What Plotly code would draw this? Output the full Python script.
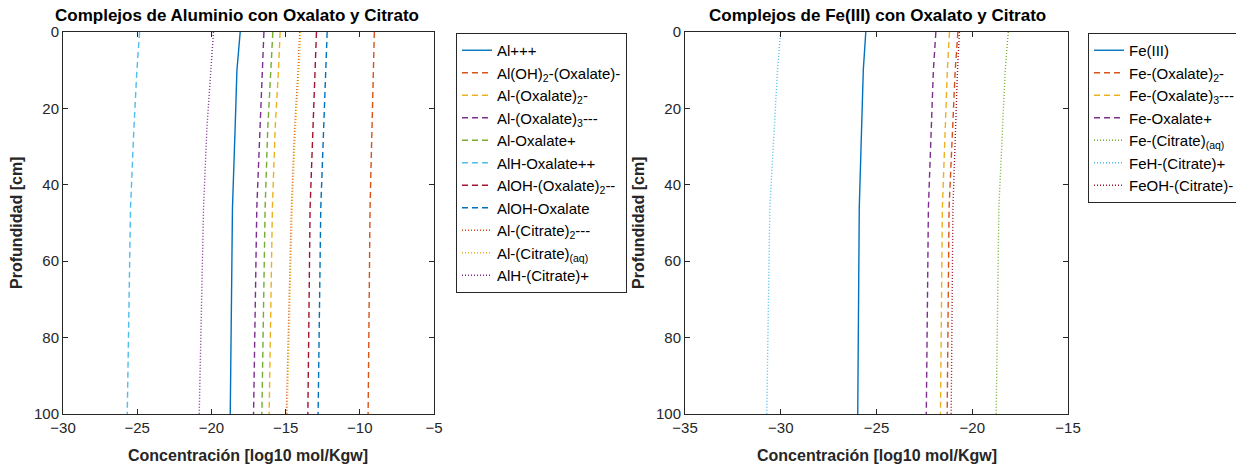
import plotly.graph_objects as go

# ---------------- Data ----------------
depth_al = [0, 10, 25, 46, 100]
al_names = ["Al+++", "Al(OH)<sub>2</sub>-(Oxalate)-", "Al-(Oxalate)<sub>2</sub>-",
            "Al-(Oxalate)<sub>3</sub>---", "Al-Oxalate+", "AlH-Oxalate++",
            "AlOH-(Oxalate)<sub>2</sub>--", "AlOH-Oxalate", "Al-(Citrate)<sub>2</sub>---",
            "Al-(Citrate)<sub>(aq)</sub>", "AlH-(Citrate)+"]
al_ppp = [-18.06, -18.28, -18.40, -18.58, -18.73]
al_oh2_ox = [-9.02, -9.08, -9.17, -9.31, -9.44]
al_ox2 = [-15.37, -15.48, -15.70, -15.89, -16.11]
al_ox3 = [-16.46, -16.56, -16.76, -16.94, -17.16]
al_ox = [-15.86, -15.99, -16.20, -16.38, -16.60]
alh_ox = [-24.84, -25.02, -25.22, -25.45, -25.67]
aloh_ox2 = [-12.92, -13.01, -13.16, -13.35, -13.50]
aloh_ox = [-12.20, -12.29, -12.47, -12.63, -12.81]
al_cit2 = [-14.05, -14.16, -14.39, -14.61, -14.95]
al_cit_aq = [-13.99, -14.10, -14.33, -14.55, -14.89]
alh_cit = [-19.86, -20.03, -20.30, -20.53, -20.82]

depth_fe = [0, 10, 46, 100]
fe_names = ["Fe(III)", "Fe-(Oxalate)<sub>2</sub>-", "Fe-(Oxalate)<sub>3</sub>---",
            "Fe-Oxalate+", "Fe-(Citrate)<sub>(aq)</sub>", "FeH-(Citrate)+", "FeOH-(Citrate)-"]
fe_iii = [-25.56, -25.69, -25.90, -25.98]
fe_ox2 = [-20.75, -20.89, -21.21, -21.31]
fe_ox3 = [-21.19, -21.30, -21.56, -21.66]
fe_ox = [-21.90, -22.03, -22.29, -22.40]
fe_cit_aq = [-18.12, -18.28, -18.61, -18.75]
feh_cit = [-30.01, -30.17, -30.57, -30.73]
feoh_cit = [-20.67, -20.77, -21.01, -21.10]

al_x_ticks = [-30, -25, -20, -15, -10, -5]
fe_x_ticks = [-35, -30, -25, -20, -15]
y_ticks = [0, 20, 40, 60, 80, 100]

# ---------------- Styles ----------------
C = ["#0072BD", "#D95319", "#EDB120", "#7E2F8E", "#77AC30", "#4DBEEE", "#A2142F"]
FONT = "Liberation Sans, Arial, sans-serif"
DASH = "6px,4px"
DOT = "1px,2px"

al_series = [al_ppp, al_oh2_ox, al_ox2, al_ox3, al_ox, alh_ox, aloh_ox2, aloh_ox,
             al_cit2, al_cit_aq, alh_cit]
al_colors = [C[0], C[1], C[2], C[3], C[4], C[5], C[6], C[0], C[1], C[2], C[3]]
al_dash = ["solid"] + [DASH] * 7 + [DOT] * 3

fe_series = [fe_iii, fe_ox2, fe_ox3, fe_ox, fe_cit_aq, feh_cit, feoh_cit]
fe_colors = [C[0], C[1], C[2], C[3], C[4], C[5], C[6]]
fe_dash = ["solid", DASH, DASH, DASH, DOT, DOT, DOT]

fig = go.Figure()
for name, vals, col, dsh in zip(al_names, al_series, al_colors, al_dash):
    fig.add_trace(go.Scatter(x=vals, y=depth_al, mode="lines", name=name,
                             line=dict(color=col, width=1.4, dash=dsh),
                             xaxis="x", yaxis="y", legend="legend"))
for name, vals, col, dsh in zip(fe_names, fe_series, fe_colors, fe_dash):
    fig.add_trace(go.Scatter(x=vals, y=depth_fe, mode="lines", name=name,
                             line=dict(color=col, width=1.4, dash=dsh),
                             xaxis="x2", yaxis="y2", legend="legend2"))

ax_common = dict(showgrid=False, zeroline=False, showline=True, linecolor="#262626",
                 linewidth=1, mirror="allticks", ticks="inside", ticklen=5,
                 tickcolor="#262626", automargin=False,
                 tickfont=dict(family=FONT, size=15, color="#262626"))

leg_common = dict(xanchor="left", yanchor="top", bordercolor="#262626", borderwidth=1,
                  bgcolor="white", font=dict(family=FONT, size=15, color="black"),
                  tracegroupgap=0, itemwidth=30)


def ann(text, x, y, size, angle=0, color="#262626"):
    return dict(text=text, x=x / 1236, y=1 - y / 468, xref="paper", yref="paper",
                showarrow=False, xanchor="center", yanchor="middle", textangle=angle,
                font=dict(family=FONT, size=size, color=color))


fig.update_layout(
    width=1236, height=468,
    margin=dict(l=0, r=0, t=0, b=0, autoexpand=False),
    paper_bgcolor="white", plot_bgcolor="white",
    font=dict(family=FONT, color="#262626"),
    xaxis=dict(domain=[63/1236, 434/1236], range=[-30, -5], tickvals=al_x_ticks,
               anchor="y", **ax_common),
    yaxis=dict(domain=[1-414/468, 1-32/468], range=[100, 0], tickvals=y_ticks,
               anchor="x", **ax_common),
    xaxis2=dict(domain=[685/1236, 1068/1236], range=[-35, -15], tickvals=fe_x_ticks,
                anchor="y2", **ax_common),
    yaxis2=dict(domain=[1-414/468, 1-32/468], range=[100, 0], tickvals=y_ticks,
                anchor="x2", **ax_common),
    legend=dict(x=456/1236, y=1-33/468, **leg_common),
    legend2=dict(x=1088/1236, y=1-33/468, **leg_common),
    annotations=[
        ann("<b>Complejos de Aluminio con Oxalato y Citrato</b>", 237, 16, 17, color="black"),
        ann("<b>Complejos de Fe(III) con Oxalato y Citrato</b>", 877, 16, 17, color="black"),
        ann("<b>Concentración [log10 mol/Kgw]</b>", 248, 455, 16),
        ann("<b>Concentración [log10 mol/Kgw]</b>", 877, 455, 16),
        ann("<b>Profundidad [cm]</b>", 16, 223, 16, angle=-90),
        ann("<b>Profundidad [cm]</b>", 638, 223, 16, angle=-90),
    ],
)

fig.write_html("out.html")
